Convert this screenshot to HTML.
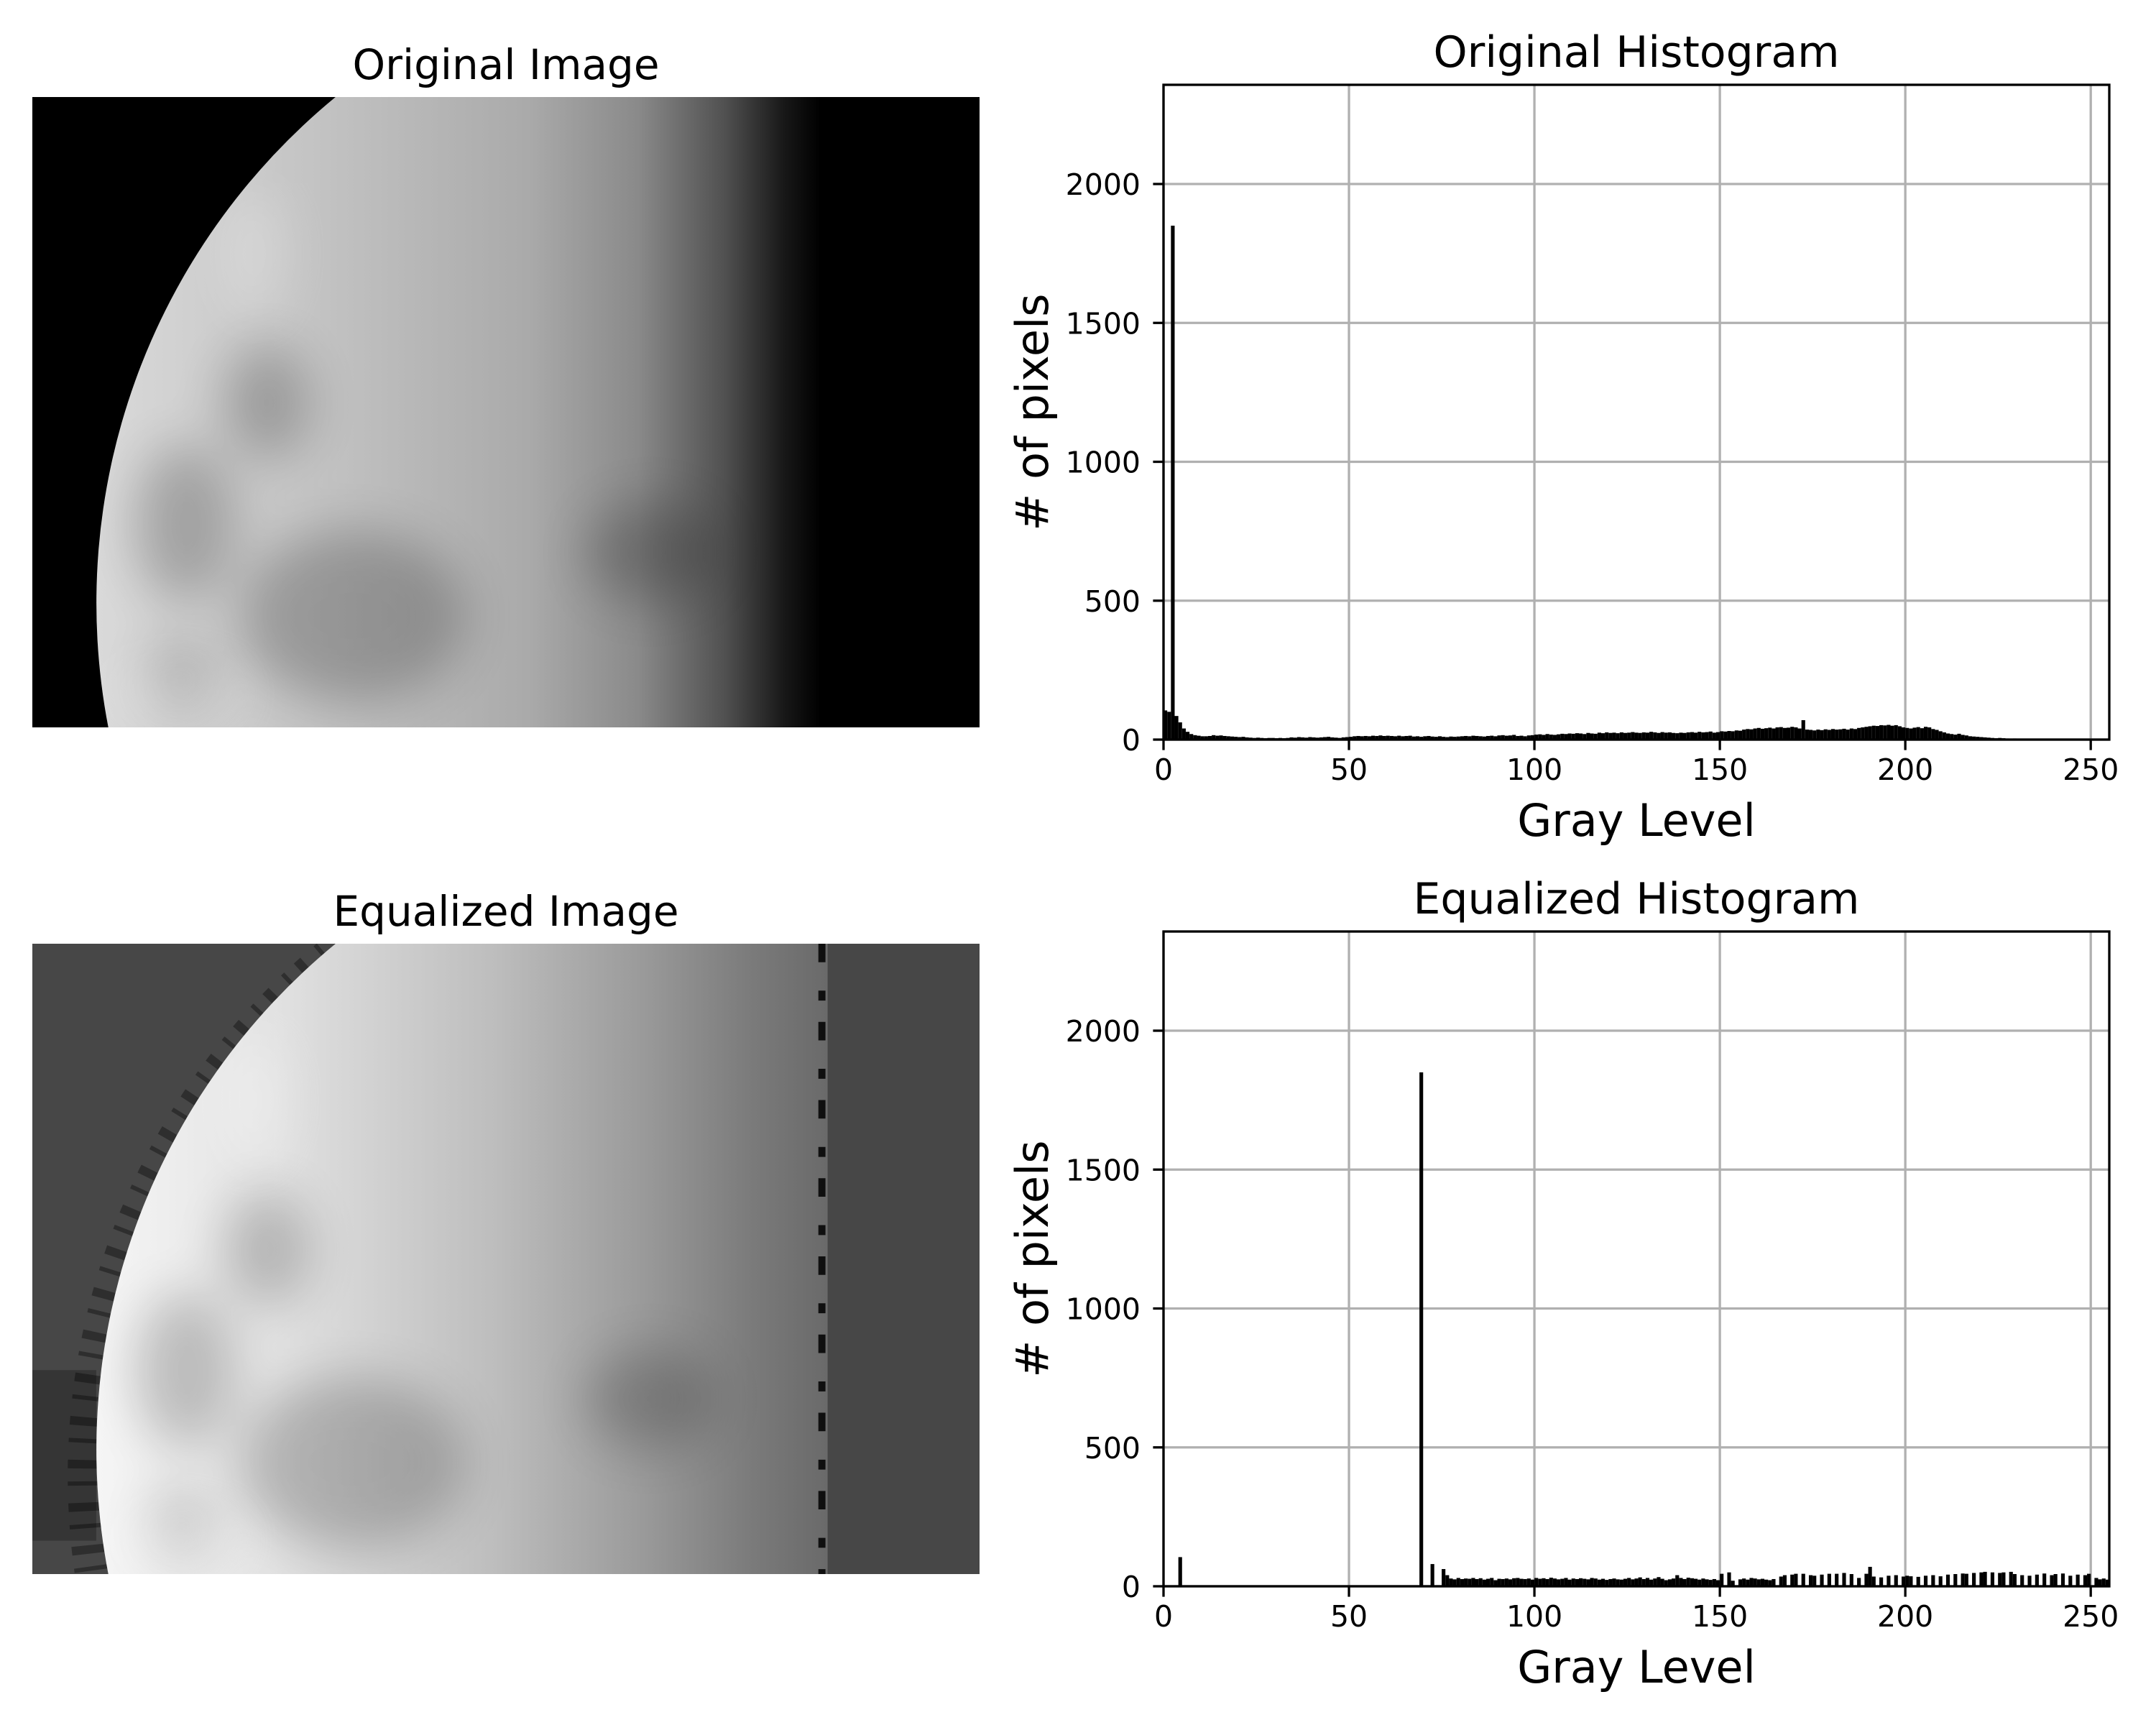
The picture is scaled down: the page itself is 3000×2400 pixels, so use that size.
<!DOCTYPE html>
<html><head><meta charset="utf-8"><style>
html,body{margin:0;padding:0;background:#fff;width:3000px;height:2400px;overflow:hidden;}
svg{display:block;font-family:"DejaVu Sans","Liberation Sans",sans-serif;}
</style></head><body>
<svg id="fig" width="3000" height="2400" viewBox="0 0 3000 2400" xmlns="http://www.w3.org/2000/svg">
<defs>
  <clipPath id="moonclip"><path d="M 427 0 A 921 921 0 0 0 107 887 L 1334 887 L 1334 0 Z"/></clipPath>
  <clipPath id="eqmoonclip"><rect x="0" y="0" width="1120" height="887"/></clipPath>
  <linearGradient id="moonGrad" gradientUnits="userSpaceOnUse" x1="80" y1="0" x2="1110" y2="0">
    <stop offset="0" stop-color="#dadada"/><stop offset="0.3" stop-color="#c4c4c4"/>
    <stop offset="0.6" stop-color="#aaaaaa"/><stop offset="0.75" stop-color="#8a8a8a"/>
    <stop offset="0.87" stop-color="#505050"/><stop offset="0.95" stop-color="#181818"/><stop offset="1" stop-color="#000"/>
  </linearGradient>
  <linearGradient id="eqGrad" gradientUnits="userSpaceOnUse" x1="80" y1="0" x2="1120" y2="0">
    <stop offset="0" stop-color="#f6f6f6"/><stop offset="0.25" stop-color="#e2e2e2"/>
    <stop offset="0.55" stop-color="#bdbdbd"/><stop offset="0.75" stop-color="#9a9a9a"/>
    <stop offset="0.9" stop-color="#7a7a7a"/><stop offset="1" stop-color="#6a6a6a"/>
  </linearGradient>
  <filter id="blur" x="-50%" y="-50%" width="200%" height="200%"><feGaussianBlur stdDeviation="35"/></filter>
</defs>

<!-- Original image -->
<text x="704" y="110" font-size="58" text-anchor="middle">Original Image</text>
<svg x="45" y="135" width="1318" height="877" viewBox="0 0 1334 887" preserveAspectRatio="none" overflow="hidden">
  <rect width="1334" height="887" fill="#000"/>
  <g clip-path="url(#moonclip)">
    <rect width="1334" height="887" fill="url(#moonGrad)"/>
    <g filter="url(#blur)" fill="#000" opacity="0.22">
      <ellipse cx="330" cy="430" rx="60" ry="80"/>
      <ellipse cx="450" cy="730" rx="160" ry="120"/>
      <ellipse cx="215" cy="600" rx="70" ry="110"/>
      <ellipse cx="870" cy="640" rx="90" ry="70"/>
      <ellipse cx="210" cy="820" rx="45" ry="50"/>
    </g>
    <g filter="url(#blur)" fill="#fff" opacity="0.25">
      <ellipse cx="310" cy="220" rx="40" ry="90"/>
      <ellipse cx="200" cy="840" rx="90" ry="40"/>
    </g>
  </g>
</svg>

<!-- Equalized image -->
<text x="704" y="1288" font-size="58" text-anchor="middle">Equalized Image</text>
<svg x="45" y="1313" width="1318" height="877" viewBox="0 0 1334 887" preserveAspectRatio="none" overflow="hidden">
  <rect width="1334" height="887" fill="#474747"/>
  <path d="M 440 0 A 950 950 0 0 0 85 887" fill="none" stroke="#000" stroke-width="50" stroke-dasharray="12 18 6 24" opacity="0.35"/>
  <rect x="0" y="600" width="90" height="240" fill="#000" opacity="0.25"/>
  <g clip-path="url(#eqmoonclip)">
  <g clip-path="url(#moonclip)">
    <rect width="1334" height="887" fill="url(#eqGrad)"/>
    <g filter="url(#blur)" fill="#000" opacity="0.2">
      <ellipse cx="330" cy="430" rx="60" ry="80"/>
      <ellipse cx="450" cy="730" rx="160" ry="120"/>
      <ellipse cx="215" cy="600" rx="70" ry="110"/>
      <ellipse cx="870" cy="640" rx="90" ry="70"/>
      <ellipse cx="210" cy="820" rx="45" ry="50"/>
    </g>
    <g filter="url(#blur)" fill="#fff" opacity="0.3">
      <ellipse cx="310" cy="220" rx="40" ry="90"/>
      <ellipse cx="200" cy="840" rx="90" ry="40"/>
    </g>
  </g>
  </g>
  <line x1="1112" y1="0" x2="1112" y2="887" stroke="#000" stroke-width="10" stroke-dasharray="26 40 14 30" opacity="0.85"/>
</svg>

<g id="charts"></g>
</svg>
<script>
const xTicks = [0, 50, 100, 150, 200, 250];
const yTicks = [0, 500, 1000, 1500, 2000];
const origCounts = [105,100,1850,85,62,40,28,20,16,14,12,12,13,16,14,15,13,12,11,10,
9,10,8,7,6,7,6,5,6,6,5,6,5,6,8,7,9,8,7,9,
8,7,8,9,10,8,7,6,8,9,10,12,13,12,13,12,14,13,15,13,
14,13,12,14,12,13,14,11,12,10,12,13,11,10,12,10,9,11,10,11,
12,13,12,14,13,12,11,13,14,12,15,16,14,15,17,13,14,12,15,16,
18,19,17,20,18,17,19,21,20,22,21,23,22,20,24,22,21,25,23,26,
24,25,23,26,24,25,27,25,24,26,25,28,26,24,27,25,26,24,23,25,
24,26,27,25,28,26,27,29,25,27,30,29,31,30,33,32,36,38,37,40,
42,39,41,43,40,44,45,42,43,46,44,40,70,36,35,33,36,34,37,35,
38,36,37,39,36,40,38,42,44,46,48,50,49,52,51,53,50,52,48,44,
42,40,43,45,41,46,44,38,35,30,26,22,20,18,21,17,15,12,11,10,
9,8,7,6,5,6,5,4,3,4,3,2,3,2,2,3,1,2,1,1,
0,0,0,0,0,0,0,0,0,0,0,0,0,0,0,0];
const eqLevels = [4,69,72,75,76,77,78,79,80,81,82,83,84,85,86,87,88,89,90,91,92,93,94,95,96,97,98,99,100,
101,102,103,104,105,106,107,108,109,110,111,112,113,114,115,116,117,118,119,120,121,122,123,124,125,126,127,128,129,130,
131,132,133,134,135,136,137,138,139,140,141,142,143,144,145,146,147,148,149,150,152,153,155,156,157,158,159,160,161,162,163,164,
166,167,169,170,172,174,175,177,179,181,183,185,187,189,190,191,193,195,197,199,200,201,203,205,207,209,211,213,215,216,218,220,221,223,225,226,228,229,231,233,235,237,239,240,242,244,246,248,249,251,252,253,254];
const eqCounts = [105,1850,80,62,40,28,25,30,26,28,27,30,26,29,24,27,30,22,27,26,28,25,29,30,27,26,28,24,30,
27,29,26,31,28,25,27,30,24,28,26,29,27,25,30,28,24,27,23,26,28,25,24,27,30,25,28,32,26,30,
24,28,33,27,22,25,28,40,30,26,31,29,27,24,28,25,23,26,22,45,50,20,25,28,24,30,28,25,27,24,22,26,
35,40,42,45,45,40,38,42,45,45,48,44,30,45,70,35,32,38,40,35,38,36,34,38,40,36,42,44,46,45,48,50,52,50,48,50,52,44,40,38,42,46,40,44,46,38,42,40,45,30,25,28,24];

const NS = 'http://www.w3.org/2000/svg';
const root = document.getElementById('charts');
function mk(tag, attrs, parent) {
  const e = document.createElementNS(NS, tag);
  for (const k in attrs) e.setAttribute(k, attrs[k]);
  parent.appendChild(e);
  return e;
}
function drawChart(off, title, levels, counts, key) {
  const L = 1619, R = 2935, T = 118 + off, B = 1029 + off;
  const xS = v => L + v * (R - L) / 255;
  const yS = v => B - v * 193.25 / 500;
  const g = mk('g', {}, root);
  
  
  xTicks.forEach(t => {
    const l = mk('line', {x1: xS(t), x2: xS(t), y1: T, y2: B, stroke: '#b0b0b0', 'stroke-width': 3.3}, g);
    
    
  });
  yTicks.forEach(t => {
    const l = mk('line', {x1: L, x2: R, y1: yS(t), y2: yS(t), stroke: '#b0b0b0', 'stroke-width': 3.3}, g);
    
    
  });
  const bars = mk('g', {}, g);
  
  
  for (let i = 0; i < counts.length; i++) {
    const lv = levels ? levels[i] : i;
    const c = counts[i];
    if (!c) continue;
    const r = mk('rect', {x: xS(lv), y: yS(c), width: xS(lv + 1) - xS(lv), height: B - yS(c), fill: '#000'}, bars);
    
    
  }
  const frame = mk('rect', {x: L, y: T, width: R - L, height: B - T, fill: 'none', stroke: '#000', 'stroke-width': 3.3}, g);
  
  
  xTicks.forEach(t => {
    mk('line', {x1: xS(t), x2: xS(t), y1: B, y2: B + 14.6, stroke: '#000', 'stroke-width': 3.3}, g);
    const tx = mk('text', {x: xS(t), y: B + 56, 'font-size': 41, 'text-anchor': 'middle'}, g);
    tx.textContent = t;
    
    
  });
  yTicks.forEach(t => {
    mk('line', {x1: L - 14.6, x2: L, y1: yS(t), y2: yS(t), stroke: '#000', 'stroke-width': 3.3}, g);
    const ty = mk('text', {x: L - 32, y: yS(t) + 15, 'font-size': 41, 'text-anchor': 'end'}, g);
    ty.textContent = t;
    
    
  });
  const tt = mk('text', {x: (L + R) / 2, y: T - 25, 'font-size': 60, 'text-anchor': 'middle'}, g);
  tt.textContent = title;
  
  
  const xl = mk('text', {x: (L + R) / 2, y: B + 134, 'font-size': 62, 'text-anchor': 'middle'}, g);
  xl.textContent = 'Gray Level';
  
  
  const cy = (T + B) / 2;
  const yl = mk('text', {x: 1458, y: cy, 'font-size': 62, 'text-anchor': 'middle', transform: 'rotate(-90 1458 ' + cy + ')'}, g);
  yl.textContent = '# of pixels';
  
  
}
drawChart(0, 'Original Histogram', null, origCounts, 'original');
drawChart(1178, 'Equalized Histogram', eqLevels, eqCounts, 'equalized');
</script>
</body></html>
